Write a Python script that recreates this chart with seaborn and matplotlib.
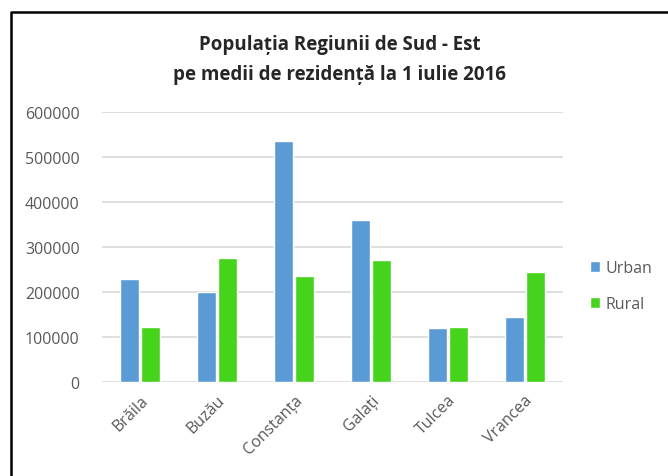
import matplotlib
matplotlib.use("Agg")
import matplotlib.pyplot as plt
import pandas as pd
import seaborn as sns
from matplotlib.lines import Line2D

judete = ["Brăila", "Buzău", "Constanța", "Galați", "Tulcea", "Vrancea"]
urban = [230000, 201000, 535000, 359000, 120500, 145500]
rural = [122500, 275000, 235000, 270500, 122500, 244000]
medii = ["Urban", "Rural"]
culori = ["#5B9BD5", "#46D31C"]

df = pd.DataFrame({
    "Judet": judete * 2,
    "Mediu": [medii[0]] * len(judete) + [medii[1]] * len(judete),
    "Populatie": urban + rural,
})

sns.set_style("white")
plt.rcParams['font.family'] = ['Open Sans', 'DejaVu Sans']

fig = plt.figure(figsize=(6.68, 4.77), dpi=100)
ax = fig.add_axes([102 / 668, 1 - 383 / 477, (563 - 102) / 668, (383 - 113) / 477])

sns.barplot(data=df, x="Judet", y="Populatie", hue="Mediu", palette=culori,
            width=0.55, gap=0.1, ax=ax, legend=True, saturation=1)

ax.set_ylim(0, 600000)
ax.set_yticks(range(0, 600001, 100000))
ax.yaxis.grid(True, color="#d9d9d9", linewidth=1.2)
ax.set_axisbelow(True)
for s in ["top", "right", "left", "bottom"]:
    ax.spines[s].set_visible(False)
ax.tick_params(axis="both", length=0, colors="#595959", labelsize=11.5)
ax.tick_params(axis="y", pad=16)
ax.tick_params(axis="x", pad=7)
ax.set_xlabel("")
ax.set_ylabel("")
plt.setp(ax.get_xticklabels(), rotation=45, ha="right", rotation_mode="anchor")

leg = ax.legend(loc="center left", bbox_to_anchor=(1.045, 0.355), frameon=False,
                fontsize=11.5, handlelength=0.6, handleheight=0.6,
                handletextpad=0.35, labelspacing=1.25, borderaxespad=0)
for t in leg.get_texts():
    t.set_color("#595959")

fig.text(0.508, 1 - 45 / 477, "Populația Regiunii de Sud - Est", ha="center", va="center",
         fontsize=13.5, fontweight="bold")
fig.text(0.508, 1 - 75 / 477, "pe medii de rezidență la 1 iulie 2016", ha="center", va="center",
         fontsize=13.5, fontweight="bold")

# chenar: doar sus si in stanga
fig.add_artist(Line2D([11 / 668, 11 / 668, 1.0], [0.0, 1 - 13 / 477, 1 - 13 / 477],
                      transform=fig.transFigure, color="black", linewidth=1.8))

plt.savefig("out.png", dpi=100)
